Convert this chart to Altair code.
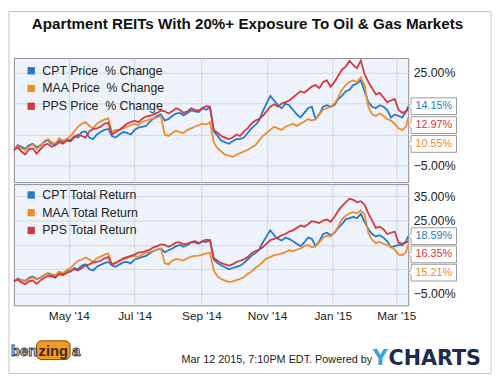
import altair as alt
import pandas as pd

FONT = "Liberation Sans, Arial, Helvetica, sans-serif"

TITLE = "Apartment REITs With 20%+ Exposure To Oil & Gas Markets"
FOOTER = "Mar 12 2015, 7:10PM EDT.  Powered by"

START = "2014-03-11"
END = "2015-03-12"
TICKS = [(2014, 5), (2014, 7), (2014, 9), (2014, 11), (2015, 1), (2015, 3)]

TOP_NAMES = ["CPT Price\u00a0 % Change", "MAA Price\u00a0 % Change", "PPS Price\u00a0 % Change"]
BOT_NAMES = ["CPT Total Return", "MAA Total Return", "PPS Total Return"]

# weekly readings (Tuesdays from Mar 11 2014 to Mar 10 2015)
CPT_PRICE_W = [0.0, 1.0, 1.5, 0.8, 2.5, 2.0, 3.0, 3.5, 4.5, 5.8, 4.0, 5.0, 6.5, 4.5, 5.0, 5.5, 6.5, 7.5,
               9.0, 11.0, 9.5, 11.0, 12.0, 12.0, 12.5, 13.5, 13.8, 4.5, 2.5, 2.8, 3.5, 5.5, 8.0, 12.5,
               17.5, 14.5, 15.0, 13.0, 10.5, 13.5, 10.0, 14.0, 14.0, 16.5, 19.0, 21.0, 22.5, 15.5, 13.5,
               14.0, 10.5, 11.0, 12.5]
MAA_PRICE_W = [0.0, 0.5, 1.0, 0.3, 2.8, 2.5, 3.8, 3.5, 6.0, 8.5, 7.8, 8.5, 9.8, 5.8, 6.5, 7.5, 8.5, 9.0,
               9.8, 10.5, 5.0, 5.5, 5.8, 6.5, 7.5, 8.5, 9.0, 0.5, -1.5, -2.2, -1.0, 0.0, 1.5, 4.5, 6.5,
               7.0, 7.5, 8.5, 8.5, 10.0, 10.0, 13.0, 14.0, 17.0, 21.0, 22.5, 23.5, 14.0, 11.0, 11.0, 9.5,
               7.0, 7.5]
PPS_PRICE_W = [0.0, -0.5, 0.2, -1.2, 1.5, 1.0, 2.5, 3.0, 4.0, 4.5, 6.0, 7.0, 8.5, 5.0, 6.5, 8.5, 9.5, 10.0,
               11.0, 12.0, 12.5, 12.5, 13.0, 12.5, 13.0, 13.5, 14.0, 5.5, 4.0, 4.0, 4.5, 7.0, 9.5, 11.0,
               14.0, 14.0, 15.5, 17.0, 19.0, 19.5, 21.0, 22.0, 20.5, 24.0, 27.0, 27.5, 29.0, 22.0, 18.0,
               17.0, 16.0, 13.0, 12.5]
# mid-week readings (Fridays/Saturdays between the weekly ones)
CPT_PRICE_M = [1.6, 0.4, 2.0, 1.5, 3.2, 1.8, 2.5, 3.0, 4.0, 6.0, 3.5, 5.8, 6.8, 4.0, 5.8, 5.0, 7.2, 7.8,
               10.2, 11.5, 10.0, 11.8, 11.2, 12.8, 12.3, 13.0, 6.0, 3.0, 2.0, 3.5, 4.0, 7.0, 9.5, 15.0,
               16.0, 13.5, 14.5, 11.5, 12.0, 14.0, 11.5, 14.5, 14.5, 17.5, 19.5, 21.5, 19.0, 14.0, 14.5,
               13.0, 11.5, 10.5]
MAA_PRICE_M = [1.2, 0.0, 1.8, 1.2, 3.5, 2.0, 3.0, 4.5, 7.5, 9.0, 7.0, 9.2, 10.2, 6.5, 7.0, 8.0, 8.0, 9.5,
               10.2, 11.0, 4.5, 6.2, 5.5, 7.0, 8.0, 8.2, 2.5, -0.5, -1.8, -1.6, -0.5, 0.8, 3.0, 5.5, 7.5,
               6.5, 8.0, 7.8, 9.2, 9.5, 11.5, 13.5, 15.0, 19.5, 22.0, 22.0, 21.0, 11.5, 11.8, 10.0, 8.5,
               6.5]
PPS_PRICE_M = [0.8, -1.5, 0.5, 0.2, 2.0, 1.5, 2.0, 2.8, 5.0, 4.0, 6.8, 7.5, 8.8, 5.8, 7.5, 9.0, 9.0, 10.8,
               11.5, 12.8, 11.8, 13.5, 12.0, 13.5, 12.8, 14.2, 6.5, 4.5, 3.5, 5.0, 6.0, 8.5, 10.0, 12.5,
               14.8, 15.0, 16.0, 18.0, 18.5, 20.5, 20.0, 22.5, 22.0, 26.0, 28.8, 26.5, 24.5, 20.0, 18.5,
               15.5, 16.5, 12.0]
PRICE_LAST = [14.15, 10.55, 12.97]

CPT_TR_W = [0.0, 0.5, 1.5, 1.0, 2.5, 2.5, 3.5, 4.5, 5.5, 6.5, 5.0, 6.0, 7.5, 6.5, 7.0, 8.0, 9.0, 10.0,
            11.5, 13.0, 12.0, 13.5, 15.0, 15.0, 16.0, 16.5, 17.0, 7.5, 5.8, 5.5, 6.5, 9.0, 11.5, 16.0,
            21.0, 17.5, 18.0, 16.5, 14.5, 18.0, 14.5, 19.5, 19.0, 22.0, 25.5, 26.5, 27.8, 21.5, 18.5,
            18.0, 14.0, 15.0, 16.5]
MAA_TR_W = [0.0, 0.3, 1.0, 0.8, 2.5, 3.0, 4.0, 4.5, 7.0, 9.0, 9.0, 9.5, 11.0, 7.0, 8.5, 9.5, 10.5, 11.0,
            12.0, 13.0, 7.5, 8.5, 9.0, 9.5, 10.5, 11.0, 11.8, 2.0, 0.3, 0.0, 1.0, 3.0, 5.5, 8.0, 10.0,
            11.0, 12.0, 12.5, 13.5, 15.0, 14.5, 18.0, 18.5, 22.5, 27.0, 28.5, 29.2, 20.0, 15.7, 15.5,
            14.5, 11.0, 12.0]
PPS_TR_W = [0.0, -0.5, 0.0, -1.0, 1.5, 2.0, 3.0, 3.5, 5.0, 5.5, 7.0, 8.0, 9.5, 7.0, 8.5, 10.0, 11.0, 12.0,
            13.0, 14.5, 15.0, 15.0, 16.0, 15.5, 16.5, 16.5, 16.8, 8.5, 7.0, 7.0, 8.5, 10.0, 12.5, 14.0,
            17.0, 18.0, 19.5, 21.0, 23.0, 23.5, 24.5, 25.0, 24.5, 29.0, 32.5, 33.5, 33.0, 28.0, 22.0,
            21.5, 20.0, 16.0, 16.0]
CPT_TR_M = [1.2, 0.2, 2.0, 1.6, 3.2, 2.0, 3.0, 4.0, 5.0, 7.0, 4.5, 6.8, 8.0, 6.0, 7.8, 7.4, 9.5, 10.5,
            12.5, 13.5, 12.8, 14.5, 14.2, 16.0, 15.5, 16.2, 9.0, 6.5, 5.0, 6.0, 7.5, 10.5, 13.0, 18.5,
            19.0, 16.8, 17.5, 15.5, 16.0, 17.5, 16.5, 20.0, 20.0, 23.5, 26.0, 26.0, 24.5, 19.5, 19.0,
            16.5, 14.5, 14.8]
MAA_TR_M = [1.0, 0.0, 1.6, 1.5, 3.5, 2.6, 3.5, 5.5, 8.5, 9.8, 8.0, 10.2, 11.5, 7.8, 9.0, 10.2, 10.0, 11.8,
            12.5, 13.5, 7.0, 9.2, 8.6, 10.2, 10.6, 11.5, 4.5, 1.0, -0.2, 0.5, 1.8, 4.0, 6.5, 9.5, 10.8,
            11.5, 12.8, 13.0, 14.5, 14.0, 16.0, 18.8, 20.0, 25.5, 28.0, 28.0, 27.5, 17.0, 16.2, 14.8,
            13.0, 10.8]
PPS_TR_M = [0.8, -1.2, 0.4, 0.3, 2.2, 1.5, 2.5, 4.2, 4.5, 6.5, 7.8, 8.5, 10.0, 7.5, 9.5, 10.5, 11.8, 12.5,
            14.0, 15.2, 14.2, 16.0, 15.2, 16.2, 15.8, 17.2, 9.5, 7.5, 6.5, 8.0, 9.0, 11.5, 13.0, 15.5,
            17.5, 19.0, 20.5, 22.0, 22.5, 24.8, 24.0, 25.5, 26.5, 31.0, 34.0, 32.5, 31.5, 25.0, 22.5,
            19.5, 20.5, 15.5]
TR_LAST = [18.59, 15.21, 16.35]

TOP_GRID = [25, 15, 5, -5]
TOP_LABELS = [25, -5]
BOT_GRID = [35, 25, 15, 5, -5]
BOT_LABELS = [35, 25, -5]

COLORS = ["#2479c9", "#f08a2c", "#d6373d"]
BG = "#eef2fa"
GRID = "#d0d6e2"
BORDER = "#8c8c8c"

CALLOUT = "M-1,-0.37L1,-0.37L1,0.37L-1,0.37L-1,0.12L-1.13,0L-1,-0.12Z"

WEEKS = pd.date_range(START, periods=len(CPT_PRICE_W), freq="7D")
DATES = []
for i, w in enumerate(WEEKS):
    DATES.append(w)
    if i < len(WEEKS) - 1:
        DATES.append(w + pd.Timedelta(hours=84))
DATES.append(pd.Timestamp(END))
DATES = [d.strftime("%Y-%m-%dT%H:%M:%S") for d in DATES]


def interleave(weekly, mid, last):
    out = []
    for i, v in enumerate(weekly):
        out.append(v)
        if i < len(mid):
            out.append(mid[i])
    out.append(last)
    return out


def dt(y, m, d=1):
    return alt.DateTime(year=y, month=m, date=d, hours=0)


def panel(names, series, domain, grid_vals, label_vals, height, gap, legend_y, bottom, extras):
    rows = [{"date": d, "series": n, "value": v}
            for n, vals in zip(names, series) for d, v in zip(DATES, vals)]
    df = pd.DataFrame(rows)
    cscale = alt.Scale(domain=names, range=COLORS)
    cond = " || ".join(f"datum.value == {v}" for v in label_vals)
    y_axis = alt.Axis(orient="right", values=grid_vals,
                      labelExpr=f"({cond}) ? format(datum.value, '.2f') + '%' : ''",
                      ticks=False, domain=False, grid=True, gridColor=GRID,
                      labelFont=FONT, labelFontSize=12.5, labelColor="#222",
                      labelPadding=5, title=None)
    x_axis = alt.Axis(values=[dt(y, m) for y, m in TICKS], format="%b '%y", labels=bottom,
                      ticks=False, domain=False, grid=True, gridColor=GRID,
                      labelFont=FONT, labelFontSize=12, labelColor="#222",
                      labelPadding=5, title=None)
    xs = alt.Scale(domain=[dt(2014, 3, 11), dt(2015, 3, 12)])
    ys = alt.Scale(domain=domain, nice=False, zero=False)
    legend = alt.Legend(title=None, orient="none", legendX=11.3, legendY=legend_y,
                        symbolType="square", symbolSize=55, symbolStrokeWidth=0,
                        labelFont=FONT, labelFontSize=12.5, labelColor="#222",
                        labelOffset=5, rowPadding=5, padding=0)

    X = alt.X("date:T", scale=xs, axis=x_axis)
    Y = alt.Y("value:Q", scale=ys, axis=y_axis)

    leg = alt.Chart(df).transform_filter("false").mark_square(filled=True, opacity=1).encode(
        x=X, y=Y, color=alt.Color("series:N", scale=cscale, legend=legend))
    lines = alt.Chart(df).mark_line(strokeWidth=1.8).encode(
        x=X, y=Y, color=alt.Color("series:N", scale=cscale, legend=legend))

    ends = [s[-1] for s in series]
    order = sorted(range(len(ends)), key=lambda i: -ends[i])
    pos = [0.0] * len(ends)
    prev = None
    for i in order:
        p = ends[i] if prev is None else min(ends[i], prev - gap)
        pos[i] = p
        prev = p
    cdf = pd.DataFrame({"series": names, "value": ends, "pos": pos, "col": COLORS,
                        "label": [f"{v:.2f}%" for v in ends]})
    YP = alt.Y("pos:Q", scale=ys, axis=y_axis)
    box = alt.Chart(cdf).mark_point(shape=CALLOUT, size=2116, filled=True, fill="white",
                                    stroke="#9a9a9a", strokeWidth=1, opacity=1).encode(
        x=alt.value(426), y=YP)
    txt = alt.Chart(cdf).mark_text(font=FONT, fontSize=11, align="center", baseline="middle").encode(
        x=alt.value(426), y=YP, text="label:N", color=alt.Color("col:N", scale=None))

    return alt.layer(leg, lines, box, txt, *extras).properties(width=400, height=height)


one = pd.DataFrame({"t": [TITLE]})
title = alt.Chart(one).mark_text(font=FONT, fontSize=15.4, fontWeight="bold", color="#111",
                                 align="center", baseline="alphabetic").encode(
    text="t:N", x=alt.value(237), y=alt.value(-29))
frame = alt.Chart(one).mark_rect(fillOpacity=0, stroke="#c4c4c4", strokeWidth=1).encode(
    x=alt.value(-5), x2=alt.value(484), y=alt.value(-47), y2=alt.value(320))

foot = alt.Chart(pd.DataFrame({"t": [FOOTER]})).mark_text(
    font=FONT, fontSize=11, color="#222", align="left", baseline="alphabetic").encode(
    text="t:N", x=alt.value(170), y=alt.value(181))
yc_y = alt.Chart(pd.DataFrame({"t": ["Y"]})).mark_text(
    font="DejaVu Sans", fontSize=21, fontWeight="bold", color="#3aa2de", align="left",
    baseline="alphabetic").encode(text="t:N", x=alt.value(364), y=alt.value(183))
yc_rest = alt.Chart(pd.DataFrame({"t": ["CHARTS"]})).mark_text(
    font="DejaVu Sans", fontSize=21, fontWeight="bold", color="#1d2b4f", align="left",
    baseline="alphabetic").encode(text="t:N", x=alt.value(380), y=alt.value(183))
bz_bubble = alt.Chart(one).mark_rect(fill="#f39a1f", cornerRadius=5, stroke="#6b4a12", strokeWidth=1).encode(
    x=alt.value(23), x2=alt.value(57), y=alt.value(159), y2=alt.value(178))
bz_ben = alt.Chart(pd.DataFrame({"t": ["ben"]})).mark_text(
    font=FONT, fontSize=15, fontWeight="bold", color="#dfe6f2", stroke="#3b4252", strokeWidth=1,
    align="left", baseline="alphabetic").encode(text="t:N", x=alt.value(-3), y=alt.value(174))
bz_zing = alt.Chart(pd.DataFrame({"t": ["zing"]})).mark_text(
    font=FONT, fontSize=15, fontWeight="bold", color="#3b2a10", align="left",
    baseline="alphabetic").encode(text="t:N", x=alt.value(25), y=alt.value(174))
bz_a = alt.Chart(pd.DataFrame({"t": ["a"]})).mark_text(
    font=FONT, fontSize=15, fontWeight="bold", color="#dfe6f2", stroke="#3b4252", strokeWidth=1,
    align="left", baseline="alphabetic").encode(text="t:N", x=alt.value(59), y=alt.value(174))

top_series = [interleave(w, m, l) for w, m, l in
              zip([CPT_PRICE_W, MAA_PRICE_W, PPS_PRICE_W], [CPT_PRICE_M, MAA_PRICE_M, PPS_PRICE_M], PRICE_LAST)]
bot_series = [interleave(w, m, l) for w, m, l in
              zip([CPT_TR_W, MAA_TR_W, PPS_TR_W], [CPT_TR_M, MAA_TR_M, PPS_TR_M], TR_LAST)]

top = panel(TOP_NAMES, top_series, [-10.43, 29.79], TOP_GRID, TOP_LABELS,
            126, 6.1, 6.75, False, [title, frame])
bot = panel(BOT_NAMES, bot_series, [-9.86, 40.0], BOT_GRID, BOT_LABELS,
            123, 7.5, 4.75, True, [foot, yc_y, yc_rest, bz_bubble, bz_ben, bz_zing, bz_a])

chart = alt.vconcat(top, bot, spacing=2, bounds="flush").resolve_scale(
    color="independent", y="independent", x="independent"
).resolve_legend(color="independent").properties(
    padding=0, background="white"
).configure_view(fill=BG, stroke=BORDER, strokeWidth=1)

chart.save("out.html", embed_options={"renderer": "svg", "actions": False})
